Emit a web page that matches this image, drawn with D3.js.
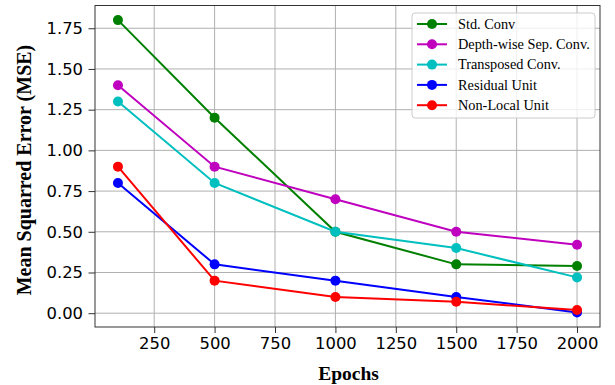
<!DOCTYPE html>
<html><head><meta charset="utf-8">
<script src="https://cdn.jsdelivr.net/npm/d3@7"></script>
<style>body{margin:0;background:#fff}svg{display:block}</style>
</head><body>
<script>
const epochs = [100, 500, 1000, 1500, 2000];
const seriesNames = ["Std. Conv", "Depth-wise Sep. Conv.", "Transposed Conv.", "Residual Unit", "Non-Local Unit"];
const stdConv = [1.8, 1.2, 0.5, 0.3, 0.29];
const depthwise = [1.4, 0.9, 0.7, 0.5, 0.42];
const transposed = [1.3, 0.8, 0.5, 0.4, 0.22];
const residual = [0.8, 0.3, 0.2, 0.1, 0.005];
const nonLocal = [0.9, 0.2, 0.1, 0.07, 0.02];
const colors = ["#008000", "#bf00bf", "#00bfbf", "#0000ff", "#ff0000"];
const xTicks = [250, 500, 750, 1000, 1250, 1500, 1750, 2000];
const yTicks = [0, 0.25, 0.5, 0.75, 1.0, 1.25, 1.5, 1.75];

const allSeries = [stdConv, depthwise, transposed, residual, nonLocal];
const W = 615, H = 385;
const L = 95, R = 600, T = 5.5, B = 327;

const svg = d3.select("body").append("svg").attr("width", W).attr("height", H);
const x = d3.scaleLinear().domain([5, 2095]).range([L, R]);
const y = d3.scaleLinear().domain([-0.08475, 1.88975]).range([B, T]);

// grid
svg.append("g").selectAll("line").data(xTicks).join("line")
  .attr("x1", d => x(d)).attr("x2", d => x(d)).attr("y1", T).attr("y2", B)
  .attr("stroke", "#b0b0b0").attr("stroke-width", 1);
svg.append("g").selectAll("line").data(yTicks).join("line")
  .attr("y1", d => y(d)).attr("y2", d => y(d)).attr("x1", L).attr("x2", R)
  .attr("stroke", "#b0b0b0").attr("stroke-width", 1);

// axes
const xAxis = d3.axisBottom(x).tickValues(xTicks).tickSize(6).tickPadding(4.5).tickFormat(d3.format("d"));
const yAxis = d3.axisLeft(y).tickValues(yTicks).tickSize(6.5).tickPadding(5.5).tickFormat(d3.format(".2f"));
const gx = svg.append("g").attr("transform", `translate(0,${B})`).call(xAxis);
const gy = svg.append("g").attr("transform", `translate(${L},0)`).call(yAxis);
[gx, gy].forEach(g => {
  g.select(".domain").remove();
  g.selectAll("text").attr("font-family", "DejaVu Sans").attr("font-size", 16.4).attr("fill", "#000");
  g.selectAll("line").attr("stroke", "#333");
});

// lines
const line = d3.line().x((d, i) => x(epochs[i])).y(d => y(d));
allSeries.forEach((s, k) => {
  svg.append("path").datum(s).attr("d", line).attr("fill", "none")
    .attr("stroke", colors[k]).attr("stroke-width", 2);
  svg.append("g").selectAll("circle").data(s).join("circle")
    .attr("cx", (d, i) => x(epochs[i])).attr("cy", d => y(d)).attr("r", 5)
    .attr("fill", colors[k]);
});

// frame
svg.append("rect").attr("x", L).attr("y", T).attr("width", R - L).attr("height", B - T)
  .attr("fill", "none").attr("stroke", "#333").attr("stroke-width", 1);

// legend
const lg = svg.append("g");
lg.append("rect").attr("x", 412).attr("y", 13).attr("width", 183).attr("height", 105)
  .attr("rx", 3).attr("fill", "#fff").attr("fill-opacity", 0.8).attr("stroke", "#ccc").attr("stroke-width", 1);
seriesNames.forEach((n, k) => {
  const yy = 24 + k * 20.3;
  lg.append("line").attr("x1", 417).attr("x2", 447).attr("y1", yy).attr("y2", yy)
    .attr("stroke", colors[k]).attr("stroke-width", 2);
  lg.append("circle").attr("cx", 432).attr("cy", yy).attr("r", 5).attr("fill", colors[k]);
  lg.append("text").attr("x", 458).attr("y", yy + 4.8).text(n)
    .attr("font-family", "Liberation Serif").attr("font-size", 14.3).attr("fill", "#000");
});

// axis titles
svg.append("text").attr("x", 348.5).attr("y", 380).attr("text-anchor", "middle")
  .attr("font-family", "Liberation Serif").attr("font-weight", "bold").attr("font-size", 19.5).text("Epochs");
svg.append("text").attr("transform", `translate(31,170) rotate(-90)`).attr("text-anchor", "middle")
  .attr("font-family", "Liberation Serif").attr("font-weight", "bold").attr("font-size", 20).text("Mean Squarred Error (MSE)");
</script>
</body></html>
